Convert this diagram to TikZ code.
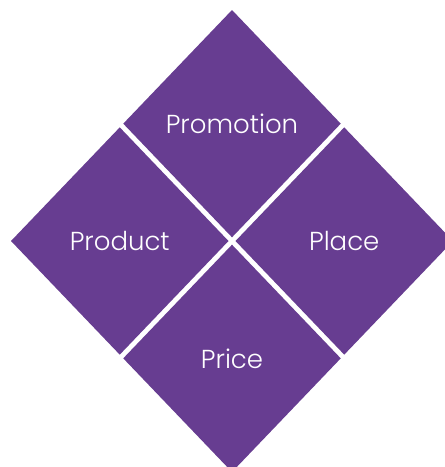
\documentclass[tikz,border=0pt]{standalone}
\usepackage{fontspec}
\setmainfont{Poppins}[UprightFont=* Light]
\usetikzlibrary{shapes.geometric}
\definecolor{mixpurple}{RGB}{103,61,145}

\begin{document}
\begin{tikzpicture}[x=1pt,y=-1pt,
  quad/.style={shape=diamond, fill=mixpurple, text=white,
    inner sep=0pt, outer sep=0pt,
    minimum width=217.5pt, minimum height=227.3pt,
    font=\fontsize{26}{31}\selectfont}]
  \useasboundingbox (0,0) rectangle (445,467);

  \node[quad] (Promotion) at (232,123.65) {Promotion};
  \node[quad] (Product)   at (119.75,241) {Product};
  \node[quad] (Place)     at (344.25,241) {Place};
  \node[quad] (Price)     at (232,358.35) {Price};

\end{tikzpicture}
\end{document}
